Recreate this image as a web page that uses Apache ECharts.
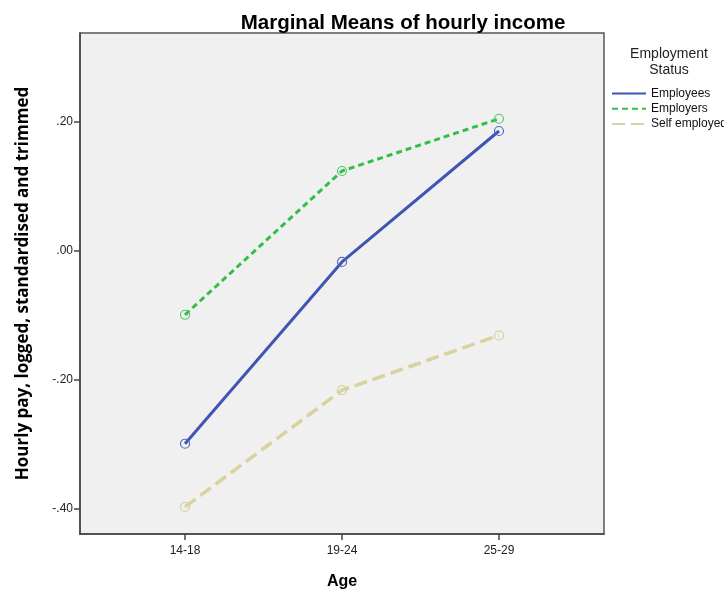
<!DOCTYPE html>
<html>
<head>
<meta charset="utf-8">
<script src="https://cdn.jsdelivr.net/npm/echarts@6/dist/echarts.min.js"></script>
<style>html,body{margin:0;padding:0;background:#fff}#c{width:724px;height:589px}</style>
</head>
<body>
<div id="c"></div>
<script>
const categories = ['14-18', '19-24', '25-29'];
const seriesNames = ['Employees', 'Employers', 'Self employed'];
const employees = [-0.299, -0.017, 0.186];
const employers = [-0.099, 0.124, 0.205];
const selfEmployed = [-0.397, -0.216, -0.131];
const yTicks = [-0.4, -0.2, 0, 0.2];
const titleText = 'Marginal Means of hourly income';
const legendTitle = 'Employment\nStatus';
const yName = 'Hourly pay, logged, standardised and trimmed';
const xName = 'Age';

const colors = ['#3F55B3', '#33BE47', '#D9D29F'];
const symColors = ['#5468C4', '#55C865', '#D6D0A2'];
const dashes = ['solid', [6, 4], [13, 6]];
const allData = [employees, employers, selfEmployed];

function fmt(v) {
  const s = v.toFixed(2);
  return s.replace('0.', '.');
}

const chart = echarts.init(document.getElementById('c'));
chart.setOption({
  animation: false,
  backgroundColor: '#ffffff',
  title: [
    { text: titleText, left: 398, top: 8, textAlign: 'center',
      textStyle: { fontFamily: 'Liberation Sans', fontWeight: 'bold', fontSize: 20.5, color: '#000' } },
    { text: legendTitle, left: 664, top: 41, textAlign: 'center',
      textStyle: { fontFamily: 'Liberation Sans', fontWeight: 'normal', fontSize: 14, lineHeight: 16, color: '#222' } }
  ],
  grid: { left: 80, top: 33, right: 120, bottom: 55, show: true, backgroundColor: '#F0F0F0', borderColor: '#555', borderWidth: 1.5,
    outerBoundsMode: 'none', containLabel: false },
  legend: {
    orient: 'vertical', left: 606, top: 81,
    itemWidth: 34, itemHeight: 16, itemGap: 0.5, itemTextGap: 2,
    itemStyle: { opacity: 0 },
    textStyle: { fontFamily: 'Liberation Sans', fontSize: 12, color: '#111' },
    data: seriesNames
  },
  xAxis: {
    type: 'value', min: -0.669, max: 2.669,
    splitLine: { show: false },
    axisLine: { show: true, onZero: false, lineStyle: { color: '#444', width: 1.5 } },
    axisTick: { show: true, customValues: [0, 1, 2], length: 6, lineStyle: { color: '#444', width: 1.5 } },
    axisLabel: { customValues: [0, 1, 2], formatter: v => categories[Math.round(v)], margin: 11,
      fontFamily: 'Liberation Sans', fontSize: 12, color: '#222' },
    name: xName, nameLocation: 'middle', nameGap: 40,
    nameTextStyle: { fontFamily: 'Liberation Sans', fontWeight: 'bold', fontSize: 16, color: '#000' }
  },
  yAxis: {
    type: 'value', min: -0.439, max: 0.338,
    splitLine: { show: false },
    axisLine: { show: true, onZero: false, lineStyle: { color: '#444', width: 1.5 } },
    axisTick: { show: true, customValues: yTicks, length: 6, lineStyle: { color: '#444', width: 1.5 } },
    axisLabel: { customValues: yTicks, formatter: fmt, margin: 7,
      fontFamily: 'Liberation Sans', fontSize: 12, color: '#222' },
    name: yName, nameLocation: 'middle', nameGap: 48,
    nameTextStyle: { fontFamily: 'Open Sans', fontWeight: 'bold', fontSize: 17, color: '#000' }
  },
  series: seriesNames.map((n, i) => ({
    name: n, type: 'line',
    data: allData[i].map((v, j) => [j, v]),
    symbol: 'circle', symbolSize: 9,
    lineStyle: { color: colors[i], width: i === 2 ? 3.5 : 3, type: dashes[i] },
    itemStyle: { color: 'rgba(0,0,0,0)', borderColor: symColors[i], borderWidth: 1.2 },
    z: 3 - i
  }))
});
</script>
</body>
</html>
